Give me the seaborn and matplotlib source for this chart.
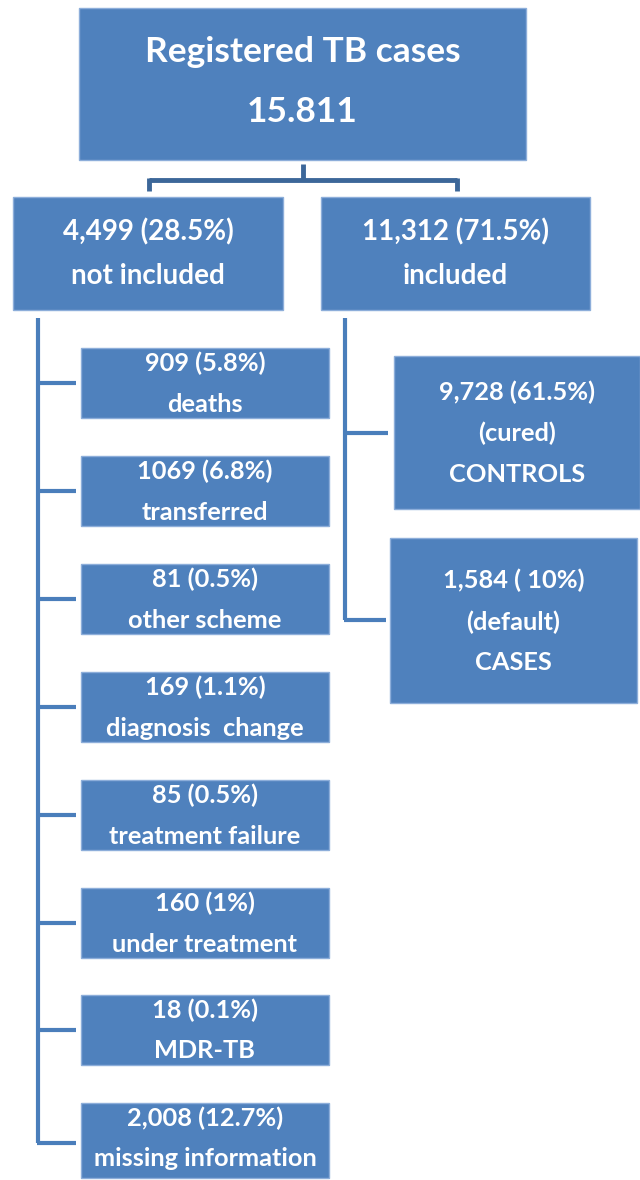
import matplotlib
matplotlib.use("Agg")
import matplotlib.pyplot as plt
from matplotlib.patches import Rectangle
import seaborn as sns

# ---- data ----
top_label = ["Registered TB cases", "15.811"]
branch_labels = [["4,499 (28.5%)", "not included"], ["11,312 (71.5%)", "included"]]
excluded_counts = ["909 (5.8%)", "1069 (6.8%)", "81 (0.5%)", "169 (1.1%)",
                   "85 (0.5%)", "160 (1%)", "18 (0.1%)", "2,008 (12.7%)"]
excluded_reasons = ["deaths", "transferred", "other scheme", "diagnosis  change",
                    "treatment failure", "under treatment", "MDR-TB", "missing information"]
included_labels = [["9,728 (61.5%)", "(cured)", "CONTROLS"],
                   ["1,584 ( 10%)", "(default)", "CASES"]]

sns.set_theme(style="white")
plt.rcParams['font.family'] = ['Lato', 'DejaVu Sans']

FILL = "#4F81BD"
EDGE = "#8DAEDA"
LINE = "#4A7EBB"
DARK = "#3C6799"

fig = plt.figure(figsize=(6.4, 11.8), dpi=100)
ax = fig.add_axes([0, 0, 1, 1])
ax.set_xlim(0, 640)
ax.set_ylim(1180, 0)
ax.axis("off")

def box(x0, y0, x1, y1, lines, ys, size):
    ax.add_patch(Rectangle((x0, y0), x1 - x0, y1 - y0, facecolor=FILL,
                           edgecolor=EDGE, lw=1, zorder=2))
    cx = (x0 + x1) / 2
    for t, y in zip(lines, ys):
        ax.text(cx, y, t, ha="center", va="center", color="white",
                fontsize=size, fontweight="bold", zorder=3)

# top
box(79, 8, 526, 160, top_label, [52, 112], 25.5)
# bracket
ax.plot([303, 303], [164, 180], color=DARK, lw=3.5, solid_capstyle="butt", zorder=1)
ax.plot([149, 457], [180, 180], color=DARK, lw=3.5, solid_capstyle="butt", zorder=1)
ax.plot([149, 149], [178, 191], color=DARK, lw=3.5, solid_capstyle="butt", zorder=1)
ax.plot([457, 457], [178, 191], color=DARK, lw=3.5, solid_capstyle="butt", zorder=1)

# branches
box(13, 197, 283, 310, branch_labels[0], [232, 276], 20)
box(321, 197, 590, 310, branch_labels[1], [232, 276], 20)

# excluded list
tops = [348, 456, 564, 672, 780, 888, 995, 1103]
heights = [70, 70, 70, 70, 70, 70, 70, 75]
tick_ys = []
for i, (c, r) in enumerate(zip(excluded_counts, excluded_reasons)):
    t = tops[i]
    h = heights[i]
    box(81, t, 329, t + h, [c, r], [t + 15, t + 56], 18.3)
    tick_ys.append(t + 35 if i < 7 else t + 40)
ax.plot([38, 38], [318, tick_ys[-1]], color=LINE, lw=3, solid_capstyle="butt", zorder=1)
for y in tick_ys:
    ax.plot([37, 76], [y, y], color=LINE, lw=3, solid_capstyle="butt", zorder=1)

# included list
box(394, 356, 640, 509, included_labels[0], [392, 433, 475], 18.3)
box(390, 538, 637, 703, included_labels[1], [580, 622, 663], 18.3)
ax.plot([345, 345], [318, 620], color=LINE, lw=3, solid_capstyle="butt", zorder=1)
ax.plot([344, 388], [433, 433], color=LINE, lw=3, solid_capstyle="butt", zorder=1)
ax.plot([344, 386], [620, 620], color=LINE, lw=3, solid_capstyle="butt", zorder=1)

fig.savefig("out.png", dpi=100, facecolor="white")
